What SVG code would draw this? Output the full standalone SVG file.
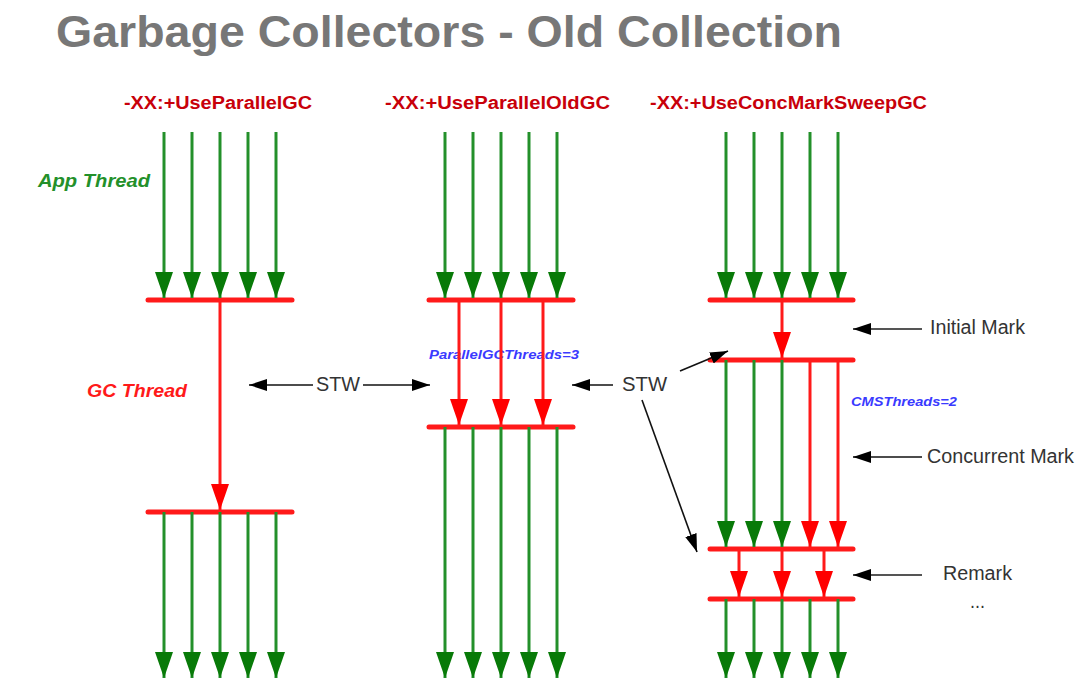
<svg xmlns="http://www.w3.org/2000/svg" width="1088" height="687" viewBox="0 0 1088 687">
<defs>
<style>
.g{stroke:#23902a;stroke-width:3;fill:none}
.r{stroke:#ff1a1a;stroke-width:3;fill:none}
.bar{stroke:#ff1a1a;stroke-width:5;stroke-linecap:round}
.k{stroke:#111;stroke-width:1.6;fill:none}
.kg{stroke:#555;stroke-width:2.2;fill:none}
.hdr{font-family:"Liberation Sans",Arial,sans-serif;font-weight:bold;font-size:17.5px;fill:#c8000a}
.lbl{font-family:"Liberation Sans",Arial,sans-serif;font-size:19.5px;fill:#333}
.blue{font-family:"Liberation Sans",Arial,sans-serif;font-weight:bold;font-style:italic;font-size:12px;fill:#3a3aff}
</style>
<marker id="ag" markerUnits="userSpaceOnUse" markerWidth="28" markerHeight="20" refX="26" refY="9" orient="auto"><path d="M0,0 L26,9 L0,18 z" fill="#087a08"/></marker>
<marker id="ar" markerUnits="userSpaceOnUse" markerWidth="28" markerHeight="20" refX="26" refY="9" orient="auto"><path d="M0,0 L26,9 L0,18 z" fill="#ff0000"/></marker>
<marker id="ak" markerUnits="userSpaceOnUse" markerWidth="20" markerHeight="14" refX="18" refY="6" orient="auto"><path d="M0,0 L18,6 L0,12 z" fill="#000"/></marker>
<marker id="aks" markerUnits="userSpaceOnUse" markerWidth="20" markerHeight="14" refX="0" refY="6" orient="auto"><path d="M18,0 L0,6 L18,12 z" fill="#000"/></marker>
</defs>
<rect width="1088" height="687" fill="#fff"/>
<g id="title">
<text x="56" y="47" font-family="Liberation Sans,Arial,sans-serif" font-weight="bold" font-size="45" fill="#777" textLength="786" lengthAdjust="spacingAndGlyphs">Garbage Collectors - Old Collection</text>
</g>
<g id="headers">
<text class="hdr" x="124" y="109" textLength="188" lengthAdjust="spacingAndGlyphs">-XX:+UseParallelGC</text>
<text class="hdr" x="385" y="109" textLength="225" lengthAdjust="spacingAndGlyphs">-XX:+UseParallelOldGC</text>
<text class="hdr" x="650" y="109" textLength="277" lengthAdjust="spacingAndGlyphs">-XX:+UseConcMarkSweepGC</text>
</g>
<g id="side-labels">
<text x="38" y="187" font-family="Liberation Sans,Arial,sans-serif" font-weight="bold" font-style="italic" font-size="18" fill="#23902a" textLength="112" lengthAdjust="spacingAndGlyphs">App Thread</text>
<text x="87" y="397" font-family="Liberation Sans,Arial,sans-serif" font-weight="bold" font-style="italic" font-size="18" fill="#ff1a1a" textLength="100" lengthAdjust="spacingAndGlyphs">GC Thread</text>
<text class="blue" x="429" y="359" textLength="150" lengthAdjust="spacingAndGlyphs">ParallelGCThreads=3</text>
<text class="blue" x="851" y="406" textLength="106" lengthAdjust="spacingAndGlyphs">CMSThreads=2</text>
<text class="lbl" x="316" y="391" textLength="44" lengthAdjust="spacingAndGlyphs">STW</text>
<text class="lbl" x="622" y="391" textLength="45" lengthAdjust="spacingAndGlyphs">STW</text>
<text class="lbl" x="930" y="334" textLength="95" lengthAdjust="spacingAndGlyphs">Initial Mark</text>
<text class="lbl" x="927" y="463" textLength="147" lengthAdjust="spacingAndGlyphs">Concurrent Mark</text>
<text class="lbl" x="943" y="580" textLength="69" lengthAdjust="spacingAndGlyphs">Remark</text>
<text class="lbl" x="970" y="608" textLength="15" lengthAdjust="spacingAndGlyphs">...</text>
</g>
<g id="col-parallel">
<line class="bar" x1="148" y1="300" x2="292" y2="300"/>
<line class="bar" x1="148" y1="512" x2="292" y2="512"/>
</g>
<g id="col-parallelold">
<line class="bar" x1="429" y1="300" x2="573" y2="300"/>
<line class="bar" x1="429" y1="427" x2="573" y2="427"/>
</g>
<g id="col-cms">
<line class="bar" x1="710" y1="300" x2="853" y2="300"/>
<line class="bar" x1="710" y1="360" x2="853" y2="360"/>
<line class="bar" x1="710" y1="549" x2="853" y2="549"/>
<line class="bar" x1="710" y1="599" x2="853" y2="599"/>
</g>
<g id="connectors">
<g marker-end="url(#ag)">
<line class="g" x1="164" y1="132" x2="164" y2="298"/>
<line class="g" x1="192" y1="132" x2="192" y2="298"/>
<line class="g" x1="220" y1="132" x2="220" y2="298"/>
<line class="g" x1="248" y1="132" x2="248" y2="298"/>
<line class="g" x1="276" y1="132" x2="276" y2="298"/>
<line class="g" x1="164" y1="512" x2="164" y2="678"/>
<line class="g" x1="192" y1="512" x2="192" y2="678"/>
<line class="g" x1="220" y1="512" x2="220" y2="678"/>
<line class="g" x1="248" y1="512" x2="248" y2="678"/>
<line class="g" x1="276" y1="512" x2="276" y2="678"/>
<line class="g" x1="445" y1="132" x2="445" y2="298"/>
<line class="g" x1="473" y1="132" x2="473" y2="298"/>
<line class="g" x1="501" y1="132" x2="501" y2="298"/>
<line class="g" x1="529" y1="132" x2="529" y2="298"/>
<line class="g" x1="557" y1="132" x2="557" y2="298"/>
<line class="g" x1="445" y1="427" x2="445" y2="678"/>
<line class="g" x1="473" y1="427" x2="473" y2="678"/>
<line class="g" x1="501" y1="427" x2="501" y2="678"/>
<line class="g" x1="529" y1="427" x2="529" y2="678"/>
<line class="g" x1="557" y1="427" x2="557" y2="678"/>
<line class="g" x1="726" y1="132" x2="726" y2="298"/>
<line class="g" x1="754" y1="132" x2="754" y2="298"/>
<line class="g" x1="782" y1="132" x2="782" y2="298"/>
<line class="g" x1="810" y1="132" x2="810" y2="298"/>
<line class="g" x1="838" y1="132" x2="838" y2="298"/>
<line class="g" x1="726" y1="360" x2="726" y2="547"/>
<line class="g" x1="754" y1="360" x2="754" y2="547"/>
<line class="g" x1="782" y1="360" x2="782" y2="547"/>
<line class="g" x1="726" y1="599" x2="726" y2="678"/>
<line class="g" x1="754" y1="599" x2="754" y2="678"/>
<line class="g" x1="782" y1="599" x2="782" y2="678"/>
<line class="g" x1="810" y1="599" x2="810" y2="678"/>
<line class="g" x1="838" y1="599" x2="838" y2="678"/>
</g>
<g marker-end="url(#ar)">
<line class="r" x1="220" y1="300" x2="220" y2="510"/>
<line class="r" x1="459" y1="300" x2="459" y2="425"/>
<line class="r" x1="501" y1="300" x2="501" y2="425"/>
<line class="r" x1="543" y1="300" x2="543" y2="425"/>
<line class="r" x1="782" y1="300" x2="782" y2="358"/>
<line class="r" x1="810" y1="360" x2="810" y2="547"/>
<line class="r" x1="838" y1="360" x2="838" y2="547"/>
<line class="r" x1="739" y1="549" x2="739" y2="597"/>
<line class="r" x1="782" y1="549" x2="782" y2="597"/>
<line class="r" x1="824" y1="549" x2="824" y2="597"/>
</g>
<line class="k" x1="249" y1="385" x2="313" y2="385" marker-start="url(#aks)"/>
<line class="k" x1="363" y1="385" x2="430" y2="385" marker-end="url(#ak)"/>
<line class="k" x1="613" y1="385" x2="572" y2="385" marker-end="url(#ak)"/>
<line class="k" x1="680" y1="371" x2="728" y2="351" marker-end="url(#ak)"/>
<line class="k" x1="642" y1="400" x2="697" y2="552" marker-end="url(#ak)"/>
<line class="kg" x1="922" y1="329" x2="853" y2="329" marker-end="url(#ak)"/>
<line class="k" x1="922" y1="457" x2="853" y2="457" marker-end="url(#ak)"/>
<line class="kg" x1="922" y1="575" x2="853" y2="575" marker-end="url(#ak)"/>
</g>
</svg>
